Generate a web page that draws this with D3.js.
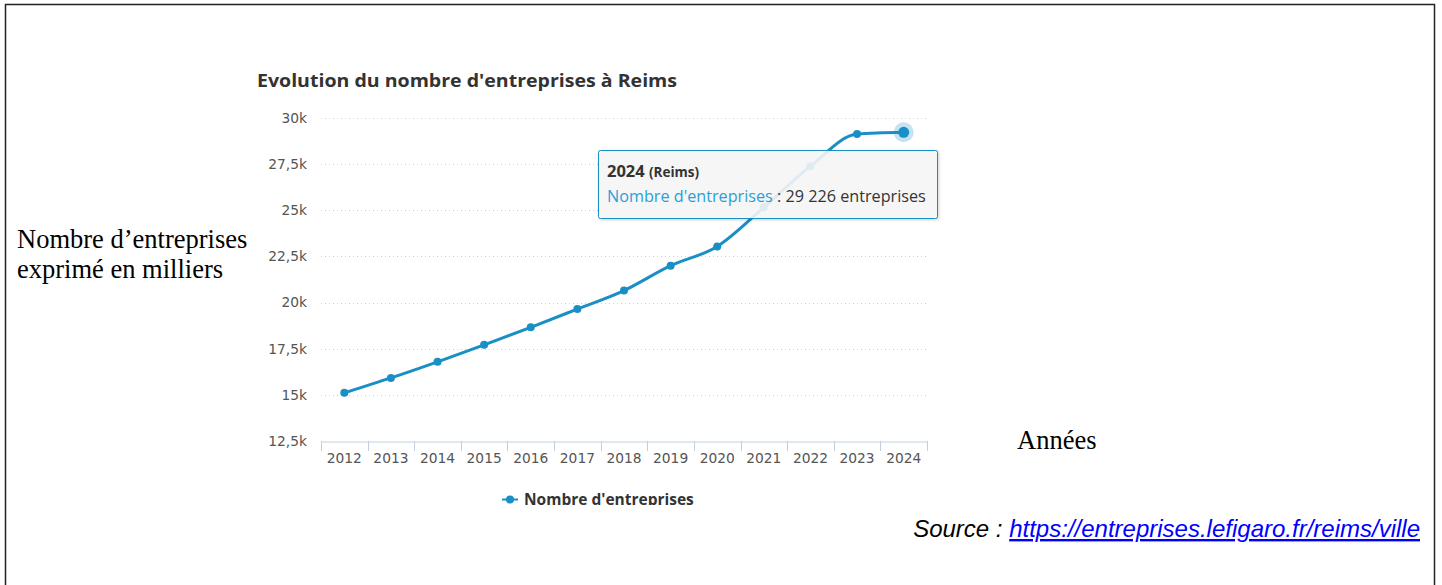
<!DOCTYPE html>
<html><head><meta charset="utf-8">
<script src="https://cdn.jsdelivr.net/npm/d3@7"></script>
<style>
html,body{margin:0;padding:0;background:#fff;}
svg{display:block;}
</style></head>
<body>
<svg id="c" width="1442" height="585"></svg>
<script>
const years = ["2012","2013","2014","2015","2016","2017","2018","2019","2020","2021","2022","2023","2024"];
const entreprises = [15110, 15920, 16790, 17710, 18660, 19650, 20650, 22000, 23040, 25160, 27390, 29130, 29226];
const yTicks = [12500, 15000, 17500, 20000, 22500, 25000, 27500, 30000];
const yTickLabels = ["12,5k","15k","17,5k","20k","22,5k","25k","27,5k","30k"];

const svg = d3.select("#c");
const blue = "#1a8fc6";
const chartFont = "'Open Sans', 'DejaVu Sans', sans-serif";

// outer frame
svg.append("rect").attr("x",5.5).attr("y",4.5).attr("width",1429).attr("height",600)
  .attr("fill","none").attr("stroke","#222").attr("stroke-width",1.5);

const chart = svg.append("g");
svg.append("clipPath").attr("id","clipChart").append("rect").attr("x",0).attr("y",0).attr("width",1442).attr("height",505);
chart.attr("clip-path","url(#clipChart)");

// title
chart.append("text").attr("x",257).attr("y",87).text("Evolution du nombre d'entreprises à Reims")
  .attr("font-family",chartFont).attr("font-weight",700).attr("font-size",18.5).attr("fill","#333")
  .attr("textLength",420).attr("lengthAdjust","spacingAndGlyphs");

const x = d3.scaleBand().domain(years).range([321,927]);
const y = d3.scaleLinear().domain([12500,30000]).range([441,118]);

// grid
chart.append("g").selectAll("line").data(yTicks.slice(1)).join("line")
  .attr("x1",321).attr("x2",927).attr("y1",d=>Math.round(y(d))+0.5).attr("y2",d=>Math.round(y(d))+0.5)
  .attr("stroke","#cfcfcf").attr("stroke-dasharray","1,3");

// y axis labels
const yAxis = d3.axisLeft(y).tickValues(yTicks).tickFormat((d,i)=>yTickLabels[i]).tickSize(0).tickPadding(0);
const gy = chart.append("g").attr("transform","translate(307,0)").call(yAxis);
gy.select(".domain").remove();
gy.selectAll("text").attr("font-family","'DejaVu Sans', sans-serif").attr("font-size",13.8).attr("fill","#555");

// x axis
const xAxis = d3.axisBottom(x).tickSizeOuter(0).tickSize(0).tickPadding(12);
const gx = chart.append("g").attr("transform","translate(0,441.5)").call(xAxis);
gx.select(".domain").attr("stroke","#c0d0e0");
gx.selectAll("text").attr("font-family","'DejaVu Sans', sans-serif").attr("font-size",13.8).attr("fill","#555");
// band boundary ticks
const bounds = years.map(d=>x(d)).concat([x(years[years.length-1])+x.bandwidth()]);
chart.append("g").selectAll("line").data(bounds).join("line")
  .attr("x1",d=>Math.round(d)+0.5).attr("x2",d=>Math.round(d)+0.5).attr("y1",441).attr("y2",451)
  .attr("stroke","#c0d0e0");

const cx = d => x(d) + x.bandwidth()/2;
const pts = years.map((d,i)=>[cx(d), y(entreprises[i])]);

const line = d3.line().curve(d3.curveMonotoneX);
chart.append("path").attr("d",line(pts)).attr("fill","none").attr("stroke",blue).attr("stroke-width",3)
  .attr("stroke-linejoin","round").attr("stroke-linecap","round");

chart.append("g").selectAll("circle").data(pts.slice(0,-1)).join("circle")
  .attr("cx",d=>d[0]).attr("cy",d=>d[1]).attr("r",4).attr("fill",blue);

// hovered last point
const last = pts[pts.length-1];
chart.append("circle").attr("cx",last[0]).attr("cy",last[1]).attr("r",10).attr("fill",blue).attr("opacity",0.25);
chart.append("circle").attr("cx",last[0]).attr("cy",last[1]).attr("r",5.5).attr("fill",blue);

// tooltip
const tt = chart.append("g");
tt.append("rect").attr("x",598.5).attr("y",150.5).attr("width",339).attr("height",68).attr("rx",2)
  .attr("fill","rgba(251,251,251,0.88)").attr("stroke",blue).attr("stroke-width",1)
  .style("filter","drop-shadow(1px 1px 1.5px rgba(0,0,0,0.2))");
const t1 = tt.append("text").attr("x",607).attr("y",177).attr("font-family",chartFont).attr("fill","#333");
t1.append("tspan").attr("font-weight",700).attr("font-size",16.5).text("2024 ");
t1.append("tspan").attr("font-weight",700).attr("font-size",13.5).text("(Reims)");
const t2 = tt.append("text").attr("x",607).attr("y",202).attr("font-family",chartFont).attr("font-size",16.2);
t2.append("tspan").attr("fill","#2b9fd6").text("Nombre d'entreprises");
t2.append("tspan").attr("fill","#333").text(" : " + d3.format(",")(entreprises[12]).replace(/,/g," ") + " entreprises");

// legend
const lg = chart.append("g");
lg.append("line").attr("x1",502).attr("x2",518).attr("y1",499.5).attr("y2",499.5).attr("stroke",blue).attr("stroke-width",2);
lg.append("circle").attr("cx",510).attr("cy",499.5).attr("r",4).attr("fill",blue);
lg.append("text").attr("x",524).attr("y",505).attr("font-family",chartFont).attr("font-weight",700)
  .attr("font-size",15.5).attr("fill","#333").text("Nombre d'entreprises");

// annotations
const serif = "'Liberation Serif', 'Times New Roman', serif";
svg.append("text").attr("x",17).attr("y",248).attr("font-family",serif).attr("font-size",26.5).attr("fill","#000").text("Nombre d’entreprises");
svg.append("text").attr("x",17).attr("y",278).attr("font-family",serif).attr("font-size",26.5).attr("fill","#000").text("exprimé en milliers");
svg.append("text").attr("x",1017).attr("y",449).attr("font-family",serif).attr("font-size",26.5).attr("fill","#000").text("Années");

const src = svg.append("text").attr("x",1420).attr("y",537).attr("text-anchor","end")
  .attr("font-family","'Liberation Sans', Arial, sans-serif").attr("font-style","italic").attr("font-size",24);
src.append("tspan").attr("fill","#000").text("Source : ");
src.append("tspan").attr("fill","#0000ff").attr("text-decoration","underline").text("https://entreprises.lefigaro.fr/reims/ville");
</script>
</body></html>
